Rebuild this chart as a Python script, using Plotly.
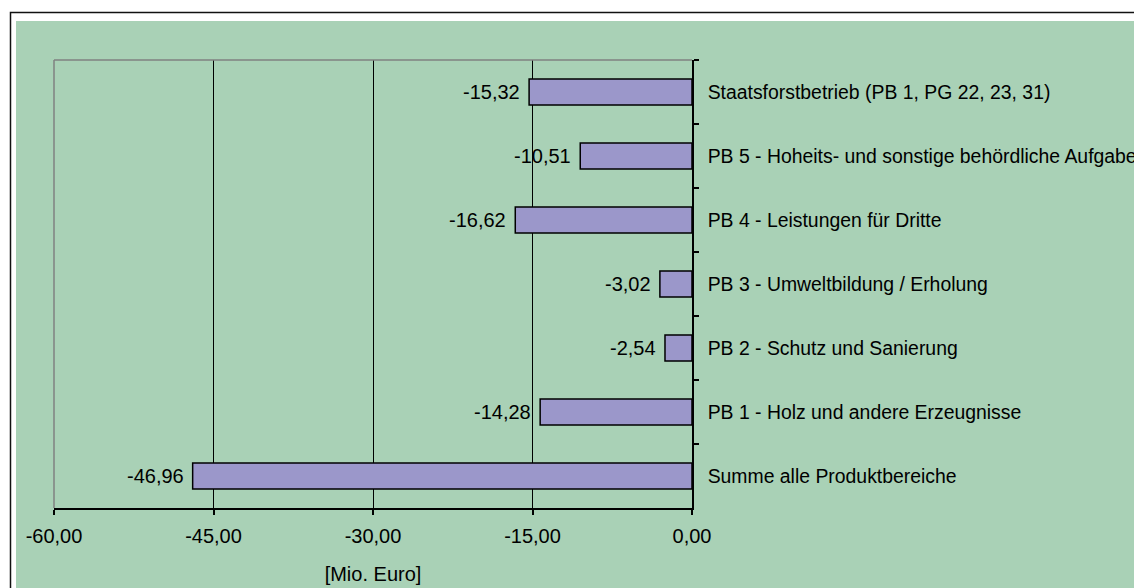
import plotly.graph_objects as go

# ---- data ----
categories = [
    "Staatsforstbetrieb (PB 1, PG 22, 23, 31)",
    "PB 5 - Hoheits- und sonstige behördliche Aufgabe",
    "PB 4 - Leistungen für Dritte",
    "PB 3 - Umweltbildung / Erholung",
    "PB 2 - Schutz und Sanierung",
    "PB 1 - Holz und andere Erzeugnisse",
    "Summe alle Produktbereiche",
]
values = [-15.32, -10.51, -16.62, -3.02, -2.54, -14.28, -46.96]
x_tickvals = [-60, -45, -30, -15, 0]
x_ticktext = ["-60,00", "-45,00", "-30,00", "-15,00", "0,00"]
axis_title = "[Mio. Euro]"

# ---- style / geometry (page pixels; body has an 8px default margin) ----
OFF = 8
W, H = 1142 - OFF, 588 - OFF
L, R, T, B = 54 - OFF, 692 - OFF, 60 - OFF, 508 - OFF
GREEN = "#A9D1B6"
BAR = "#9B97CA"
FONT = "Liberation Sans, Arial, sans-serif"
FS = 20
FS_CAT = 19.4

def px_x(p):
    return (p - OFF - L) / (R - L)

def px_y(p):
    return (B - (p - OFF)) / (B - T)

fig = go.Figure()
fig.add_trace(go.Bar(
    x=values, y=categories, orientation="h",
    marker=dict(color=BAR, line=dict(color="black", width=1.5)),
    hoverinfo="skip",
))

annotations = []
for c, v in zip(categories, values):
    annotations.append(dict(
        x=v, y=c, xref="x", yref="y", text=f"{v:.2f}".replace(".", ","),
        showarrow=False, xanchor="right", yanchor="middle", xshift=-7,
        font=dict(family=FONT, size=FS, color="black"),
    ))

shapes = [
    # outer frame
    dict(type="rect", xref="paper", yref="paper", layer="below",
         x0=px_x(10.5), x1=px_x(1142 + 30), y0=px_y(12.5), y1=px_y(588 + 30),
         line=dict(color="#111111", width=1.5), fillcolor="white"),
    # green chart area
    dict(type="rect", xref="paper", yref="paper", layer="below",
         x0=px_x(16), x1=px_x(1142 + 30), y0=px_y(21), y1=px_y(588 + 30),
         line=dict(width=0), fillcolor=GREEN),
    # gray plot border top and left
    dict(type="line", xref="paper", yref="paper", layer="above",
         x0=0, x1=1, y0=1, y1=1, line=dict(color="#808080", width=1.5)),
    dict(type="line", xref="paper", yref="paper", layer="above",
         x0=0, x1=0, y0=0, y1=1, line=dict(color="#808080", width=1.5)),
]

fig.update_layout(
    width=W, height=H,
    margin=dict(l=L, r=W - R, t=T, b=H - B, autoexpand=False),
    paper_bgcolor="white",
    plot_bgcolor="rgba(0,0,0,0)",
    bargap=0.59,
    showlegend=False,
    font=dict(family=FONT, size=FS, color="black"),
    shapes=shapes,
    annotations=annotations,
    xaxis=dict(
        range=[-60, 0], tickvals=x_tickvals, ticktext=x_ticktext,
        showgrid=True, gridcolor="black", gridwidth=1,
        zeroline=False, showline=True, linecolor="black", linewidth=1.5,
        ticks="outside", ticklen=5, tickcolor="black", tickwidth=1.5,
        ticklabelstandoff=4,
        tickfont=dict(family=FONT, size=FS, color="black"),
        title=dict(text=axis_title, standoff=21,
                   font=dict(family=FONT, size=FS, color="black")),
        automargin=False, fixedrange=True,
    ),
    yaxis=dict(
        side="right", autorange="reversed", type="category",
        tickson="boundaries", ticks="outside", ticklen=5,
        tickcolor="black", tickwidth=1.5,
        showline=True, linecolor="black", linewidth=1.5,
        showgrid=False, zeroline=False,
        ticklabelstandoff=10,
        tickfont=dict(family=FONT, size=FS_CAT, color="black"),
        automargin=False, fixedrange=True,
    ),
)

fig.write_html("out.html")
